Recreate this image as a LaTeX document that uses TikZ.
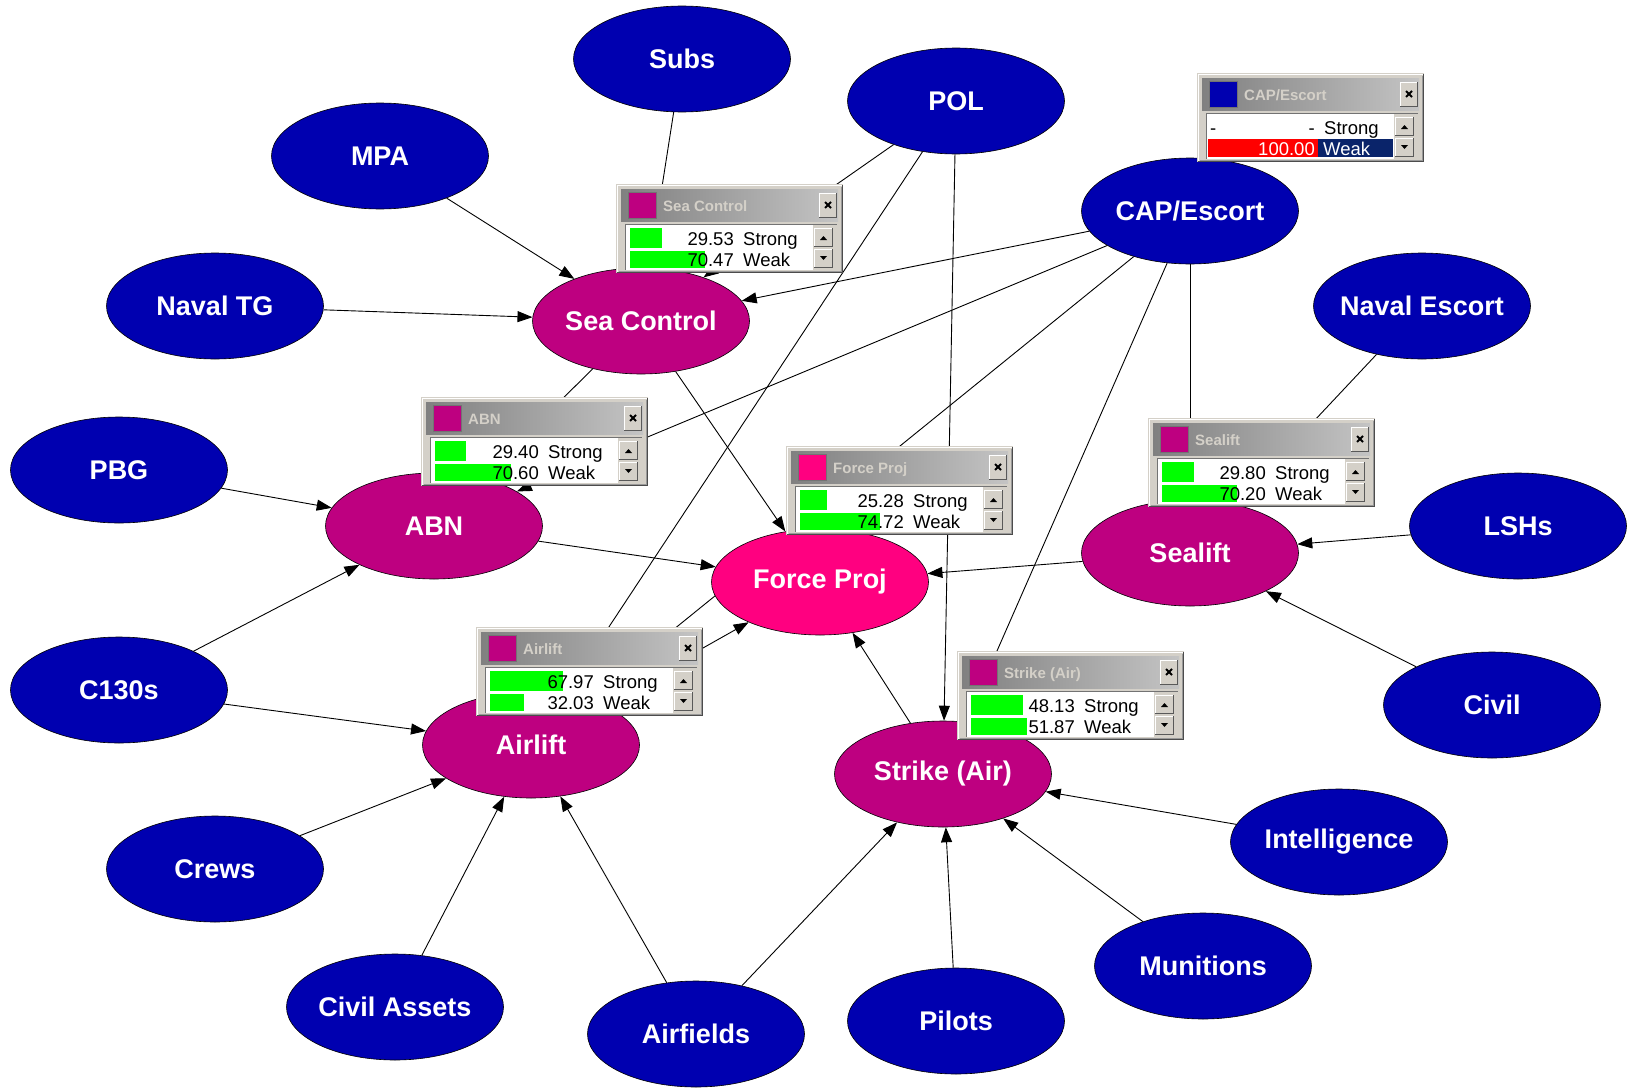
\documentclass[tikz,border=0pt]{standalone}
\usepackage{fontspec}
\setmainfont{Liberation Sans}
\usetikzlibrary{arrows.meta,shapes.geometric}

\definecolor{nodeblue}{RGB}{0,0,176}
\definecolor{nodemag}{RGB}{190,0,128}
\definecolor{nodepink}{RGB}{255,0,128}
\definecolor{winface}{RGB}{212,208,200}
\definecolor{titledark}{RGB}{128,128,128}
\definecolor{titlelight}{RGB}{196,196,196}
\definecolor{bargreen}{RGB}{0,255,0}
\definecolor{selnavy}{RGB}{10,36,106}

\pgfdeclarelayer{edges}
\pgfsetlayers{edges,main}

\tikzset{
  netnode/.style={ellipse, draw=black, line width=0.6pt, minimum width=217pt,
    minimum height=106pt, inner xsep=-15pt, inner ysep=0pt, text=white,
    font=\fontsize{27}{32}\selectfont\bfseries},
  extnode/.style={netnode, fill=nodeblue},
  midnode/.style={netnode, fill=nodemag},
  goalnode/.style={netnode, fill=nodepink},
  link/.style={draw=black, line width=0.9pt, -{Triangle[length=15pt,width=11pt]}},
  titletext/.style={inner sep=0pt, text=winface, font=\fontsize{15}{18}\selectfont\bfseries},
  rowtext/.style={inner sep=0pt, font=\fontsize{18.5}{22}\selectfont},
}

% belief monitor window: #1 name, #2 top-left corner, #3 title, #4 colour, #5 rows
\newcommand{\monitor}[5]{%
  \begin{scope}[shift={#2}]
    \fill[winface] (0,0) rectangle (227,89);
    \draw[white, line width=1.2pt] (1.5,87.5) -- (1.5,1.5) -- (225.5,1.5);
    \draw[black!70, line width=1.2pt] (0.6,88.4) -- (226.4,88.4) -- (226.4,0.6);
    \draw[black!40, line width=1pt] (2.5,87) -- (225,87) -- (225,2.5);
    % title bar
    \shade[left color=titledark, right color=titlelight] (5,5) rectangle (222,37);
    \fill[#4] (12,8) rectangle (40,34);
    \draw[black!55, line width=0.8pt] (12,8) rectangle (40,34);
    \node[titletext, anchor=base west] (#1-title) at (47,27) {#3};
    % close button
    \fill[winface] (203,9) rectangle (221,34);
    \draw[white, line width=0.8pt] (203.4,33.6) -- (203.4,9.4) -- (220.6,9.4);
    \draw[black!65, line width=0.8pt] (203.4,33.6) -- (220.6,33.6) -- (220.6,9.4);
    \draw[black, line width=2pt] (209,18) -- (215,24) (215,18) -- (209,24);
    % state list
    \fill[white] (10,41) rectangle (197,86);
    \draw[black!55, line width=1pt] (9.5,86) -- (9.5,40.5) -- (220.5,40.5);
    #5
    % scroll buttons
    \foreach \yt in {44,65}{
      \fill[winface] (198,\yt) rectangle (217,\yt+19);
      \draw[white, line width=0.8pt] (198.4,\yt+18.6) -- (198.4,\yt+0.4) -- (216.6,\yt+0.4);
      \draw[black!65, line width=0.8pt] (198.4,\yt+18.6) -- (216.6,\yt+18.6) -- (216.6,\yt+0.4);
    }
    \fill[black] (204,56) -- (211,56) -- (207.5,52) -- cycle;
    \fill[black] (204,72) -- (211,72) -- (207.5,76) -- cycle;
  \end{scope}}

% two-state rows with green bars: #1 name, #2 Strong value, #3 Weak value
\newcommand{\stdrows}[3]{%
  \fill[bargreen] (14,44) rectangle ({14+1.07*#2},64);
  \fill[bargreen] (14,67) rectangle ({14+1.07*#3},84);
  \node[rowtext, anchor=base east] (#1-sv) at (118,61) {#2};
  \node[rowtext, anchor=base west] (#1-sl) at (127,61) {Strong};
  \node[rowtext, anchor=base east] (#1-wv) at (118,82) {#3};
  \node[rowtext, anchor=base west] (#1-wl) at (127,82) {Weak};}

\begin{document}
\begin{tikzpicture}[x=1pt,y=-1pt]
  \useasboundingbox (0,0) rectangle (1628,1092);

  % input nodes
  \node[extnode] (subs)   at (682,59)   {Subs};
  \node[extnode] (pol)    at (956,101)  {POL};
  \node[extnode] (mpa)    at (380,156)  {MPA};
  \node[extnode] (cap)    at (1190,211) {CAP/Escort};
  \node[extnode] (navtg)  at (215,306)  {Naval TG};
  \node[extnode] (navesc) at (1422,306) {Naval Escort};
  \node[extnode] (pbg)    at (119,470)  {PBG};
  \node[extnode] (lshs)   at (1518,526) {LSHs};
  \node[extnode] (c130)   at (119,690)  {C130s};
  \node[extnode] (civil)  at (1492,705) {Civil};
  \node[extnode] (intel)  at (1339,842) {Intelligence};
  \node[extnode] (crews)  at (215,869)  {Crews};
  \node[extnode] (mun)    at (1203,966) {Munitions};
  \node[extnode] (civas)  at (395,1007) {Civil Assets};
  \node[extnode] (airf)   at (696,1034) {Airfields};
  \node[extnode] (pilots) at (956,1021) {Pilots};

  % intermediate and goal nodes
  \node[midnode]  (seac)    at (641,321)  {Sea Control};
  \node[midnode]  (abn)     at (434,526)  {ABN};
  \node[goalnode] (force)   at (820,582)  {Force Proj};
  \node[midnode]  (sealift) at (1190,553) {Sealift};
  \node[midnode]  (airlift) at (531,745)  {Airlift};
  \node[midnode]  (strike)  at (943,774)  {Strike (Air)};

  % white canvas and causal links, beneath the nodes
  \begin{pgfonlayer}{edges}
    \fill[white] (0,0) rectangle (1628,1092);
    \foreach \a/\b in {subs/seac, mpa/seac, navtg/seac, pol/seac, cap/seac,
        pol/airlift, pol/strike, cap/abn, cap/airlift, cap/strike, cap/sealift,
        navesc/sealift, seac/abn, seac/force, abn/force, sealift/force,
        airlift/force, strike/force, pbg/abn, c130/abn, c130/airlift,
        crews/airlift, civas/airlift, airf/airlift, airf/strike, pilots/strike,
        mun/strike, intel/strike, lshs/sealift, civil/sealift}
      \draw[link] (\a) -- (\b);
  \end{pgfonlayer}

  % belief monitors
  \monitor{mcap}{(1197,73)}{CAP/Escort}{nodeblue}{%
    \fill[red] (11,66) rectangle (121,84);
    \fill[selnavy] (121,66) rectangle (196,84);
    \node[rowtext, anchor=base west] (mcap-d1) at (13,61) {-};
    \node[rowtext, anchor=base east] (mcap-d2) at (118,61) {-};
    \node[rowtext, anchor=base west] (mcap-sl) at (127,61) {Strong};
    \node[rowtext, anchor=base east, text=white] (mcap-wv) at (118,82) {100.00};
    \node[rowtext, anchor=base west, text=white] (mcap-wl) at (126,82) {Weak};}
  \monitor{mseac}{(616,184)}{Sea Control}{nodemag}{\stdrows{mseac}{29.53}{70.47}}
  \monitor{mabn}{(421,397)}{ABN}{nodemag}{\stdrows{mabn}{29.40}{70.60}}
  \monitor{mforce}{(786,446)}{Force Proj}{nodepink}{\stdrows{mforce}{25.28}{74.72}}
  \monitor{msealift}{(1148,418)}{Sealift}{nodemag}{\stdrows{msealift}{29.80}{70.20}}
  \monitor{mairlift}{(476,627)}{Airlift}{nodemag}{\stdrows{mairlift}{67.97}{32.03}}
  \monitor{mstrike}{(957,651)}{Strike (Air)}{nodemag}{\stdrows{mstrike}{48.13}{51.87}}
\end{tikzpicture}
\end{document}
